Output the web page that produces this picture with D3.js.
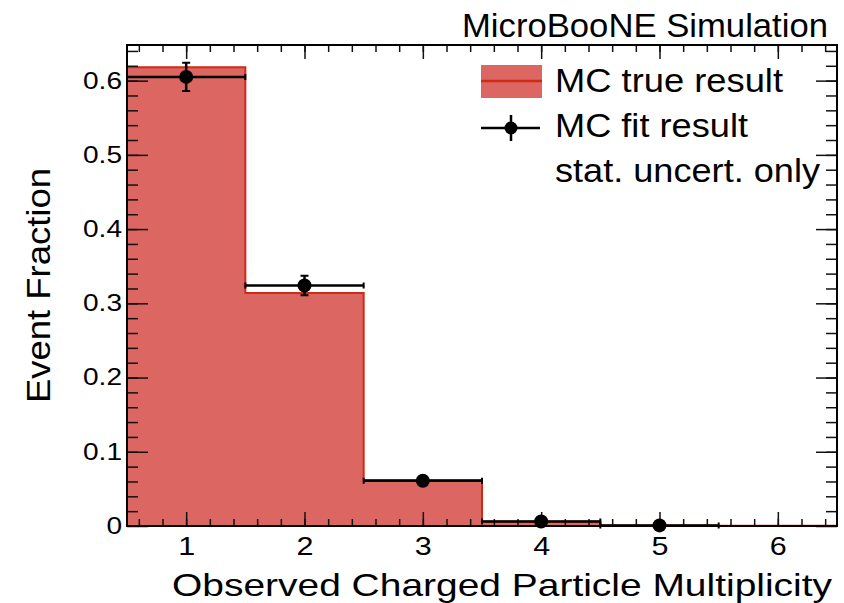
<!DOCTYPE html>
<html>
<head>
<meta charset="utf-8">
<script src="https://cdn.jsdelivr.net/npm/d3@7"></script>
<style>
body { margin: 0; background: #fff; }
text { font-family: "Liberation Sans", Arial, sans-serif; fill: #000; }
</style>
</head>
<body>
<div id="chart"></div>
<script>
// data
const bins = [1, 2, 3, 4, 5, 6];
const mcTrue = [0.618, 0.314, 0.062, 0.006, 0.0008, 0.0003];
const fitBins = [1, 2, 3, 4, 5];
const fitValues = [0.605, 0.324, 0.061, 0.006, 0.0008];
const fitErrors = [0.019, 0.013, 0.004, 0.002, 0.001];
const xTicks = [1, 2, 3, 4, 5, 6];
const yTicks = [0, 0.1, 0.2, 0.3, 0.4, 0.5, 0.6];

const fillColor = "#dc6661", lineColor = "#d02a16";

const margin = {top: 45, right: 7, bottom: 77, left: 127},
    width = 844 - margin.left - margin.right,
    height = 603 - margin.top - margin.bottom;

const root = d3.select("#chart")
  .append("svg")
  .attr("width", 844)
  .attr("height", 603);

const svg = root.append("g")
  .attr("transform", `translate(${margin.left},${margin.top})`);

const x = d3.scaleLinear().domain([0.5, 6.5]).range([0, width]);
const y = d3.scaleLinear().domain([0, 0.648]).range([height, 0]);

// the picture is stretched sideways, so widen the glyphs a bit
function stretch(sel, sx) {
  sel.each(function() {
    const w = this.getComputedTextLength();
    d3.select(this).attr("textLength", w * sx).attr("lengthAdjust", "spacingAndGlyphs");
  });
}

// histogram (MC true)
const steps = [];
bins.forEach((b, i) => {
  steps.push([b - 0.5, mcTrue[i]]);
  steps.push([b + 0.5, mcTrue[i]]);
});

svg.append("path")
  .datum(steps)
  .attr("fill", fillColor)
  .attr("d", d3.area().x(d => x(d[0])).y0(height).y1(d => y(d[1])));

svg.append("path")
  .datum([[bins[0] - 0.5, 0], ...steps, [bins[bins.length - 1] + 0.5, 0]])
  .attr("fill", "none")
  .attr("stroke", lineColor)
  .attr("stroke-width", 2)
  .attr("d", d3.line().x(d => x(d[0])).y(d => y(d[1])));

// axes, ROOT style ticks on all four sides
function tickStyle(g) {
  g.select(".domain").remove();
  g.selectAll(".tick line").attr("stroke", "#111").attr("stroke-width", 1.5);
}
const xMinor = d3.range(3, 33).map(i => i / 5);
const yMinor = d3.range(1, 33).map(i => i / 50);

svg.append("g")
  .attr("transform", `translate(0,${height})`)
  .call(d3.axisBottom(x).tickValues(xMinor).tickSize(-7).tickFormat(""))
  .call(tickStyle);
svg.append("g")
  .attr("transform", `translate(0,${height})`)
  .call(d3.axisBottom(x).tickValues(xTicks).tickSize(-14).tickPadding(11).tickFormat(d3.format("d")))
  .call(tickStyle)
  .call(g => g.selectAll("text").attr("font-size", 25).attr("font-family", null).call(stretch, 1.22));
svg.append("g")
  .call(d3.axisTop(x).tickValues(xMinor).tickSize(-7).tickFormat(""))
  .call(tickStyle);
svg.append("g")
  .call(d3.axisTop(x).tickValues(xTicks).tickSize(-14).tickFormat(""))
  .call(tickStyle);

svg.append("g")
  .call(d3.axisLeft(y).tickValues(yMinor).tickSize(-11).tickFormat(""))
  .call(tickStyle);
svg.append("g")
  .call(d3.axisLeft(y).tickValues(yTicks).tickSize(-21).tickPadding(5)
    .tickFormat(d => d === 0 ? "0" : d3.format(".1f")(d)))
  .call(tickStyle)
  .call(g => g.selectAll("text").attr("font-size", 23).attr("font-family", null).call(stretch, 1.22));
svg.append("g")
  .attr("transform", `translate(${width},0)`)
  .call(d3.axisRight(y).tickValues(yMinor).tickSize(-11).tickFormat(""))
  .call(tickStyle);
svg.append("g")
  .attr("transform", `translate(${width},0)`)
  .call(d3.axisRight(y).tickValues(yTicks).tickSize(-21).tickFormat(""))
  .call(tickStyle);

// frame
svg.append("rect")
  .attr("width", width)
  .attr("height", height)
  .attr("fill", "none")
  .attr("stroke", "#000")
  .attr("stroke-width", 2);

// fit points with error bars
const fit = fitBins.map((b, i) => ({bin: b, v: fitValues[i], e: fitErrors[i]}));
const pts = svg.selectAll(".fit")
  .data(fit)
  .enter()
  .append("g")
  .attr("class", "fit");

pts.append("line")
  .attr("x1", d => x(d.bin - 0.5)).attr("x2", d => x(d.bin + 0.5))
  .attr("y1", d => y(d.v)).attr("y2", d => y(d.v))
  .attr("stroke", "#000").attr("stroke-width", 2.5);
pts.append("line")
  .attr("x1", d => x(d.bin)).attr("x2", d => x(d.bin))
  .attr("y1", d => y(d.v - d.e)).attr("y2", d => y(d.v + d.e))
  .attr("stroke", "#000").attr("stroke-width", 2.5);
// small end caps
pts.append("path")
  .attr("d", d => {
    const cx = x(d.bin), x0 = x(d.bin - 0.5), x1 = x(d.bin + 0.5), cy = y(d.v);
    const lo = y(d.v - d.e), hi = y(d.v + d.e);
    return `M${cx - 4},${hi}H${cx + 4}M${cx - 4},${lo}H${cx + 4}` +
      `M${x0},${cy - 3}V${cy + 3}M${x1},${cy - 3}V${cy + 3}`;
  })
  .attr("stroke", "#000").attr("stroke-width", 2).attr("fill", "none");
pts.append("circle")
  .attr("cx", d => x(d.bin))
  .attr("cy", d => y(d.v))
  .attr("r", 7)
  .attr("fill", "#000");

// titles
root.append("text")
  .attr("x", 828).attr("y", 37)
  .attr("text-anchor", "end")
  .attr("font-size", 32.5)
  .attr("textLength", 366).attr("lengthAdjust", "spacingAndGlyphs")
  .text("MicroBooNE Simulation");

root.append("text")
  .attr("x", 172).attr("y", 596)
  .attr("font-size", 32)
  .attr("textLength", 660).attr("lengthAdjust", "spacingAndGlyphs")
  .text("Observed Charged Particle Multiplicity");

root.append("text")
  .attr("transform", "translate(50,403) rotate(-90)")
  .attr("font-size", 33)
  .attr("textLength", 235).attr("lengthAdjust", "spacingAndGlyphs")
  .text("Event Fraction");

// legend
const legend = root.append("g");
legend.append("rect")
  .attr("x", 481).attr("y", 65).attr("width", 61).attr("height", 33)
  .attr("fill", fillColor);
legend.append("line")
  .attr("x1", 481).attr("x2", 542).attr("y1", 81).attr("y2", 81)
  .attr("stroke", lineColor).attr("stroke-width", 2.5);
legend.append("line")
  .attr("x1", 481).attr("x2", 540).attr("y1", 128).attr("y2", 128)
  .attr("stroke", "#000").attr("stroke-width", 2.5);
legend.append("line")
  .attr("x1", 511).attr("x2", 511).attr("y1", 115).attr("y2", 141)
  .attr("stroke", "#000").attr("stroke-width", 2.5);
legend.append("circle")
  .attr("cx", 511).attr("cy", 128).attr("r", 6.5).attr("fill", "#000");

const legendText = [
  {t: "MC true result", y: 92, w: 228},
  {t: "MC fit result", y: 137, w: 193},
  {t: "stat. uncert. only", y: 182, w: 265}
];
legend.selectAll(".ltext")
  .data(legendText)
  .enter()
  .append("text")
  .attr("class", "ltext")
  .attr("x", 555)
  .attr("y", d => d.y)
  .attr("font-size", 32.5)
  .attr("textLength", d => d.w)
  .attr("lengthAdjust", "spacingAndGlyphs")
  .text(d => d.t);
</script>
</body>
</html>
